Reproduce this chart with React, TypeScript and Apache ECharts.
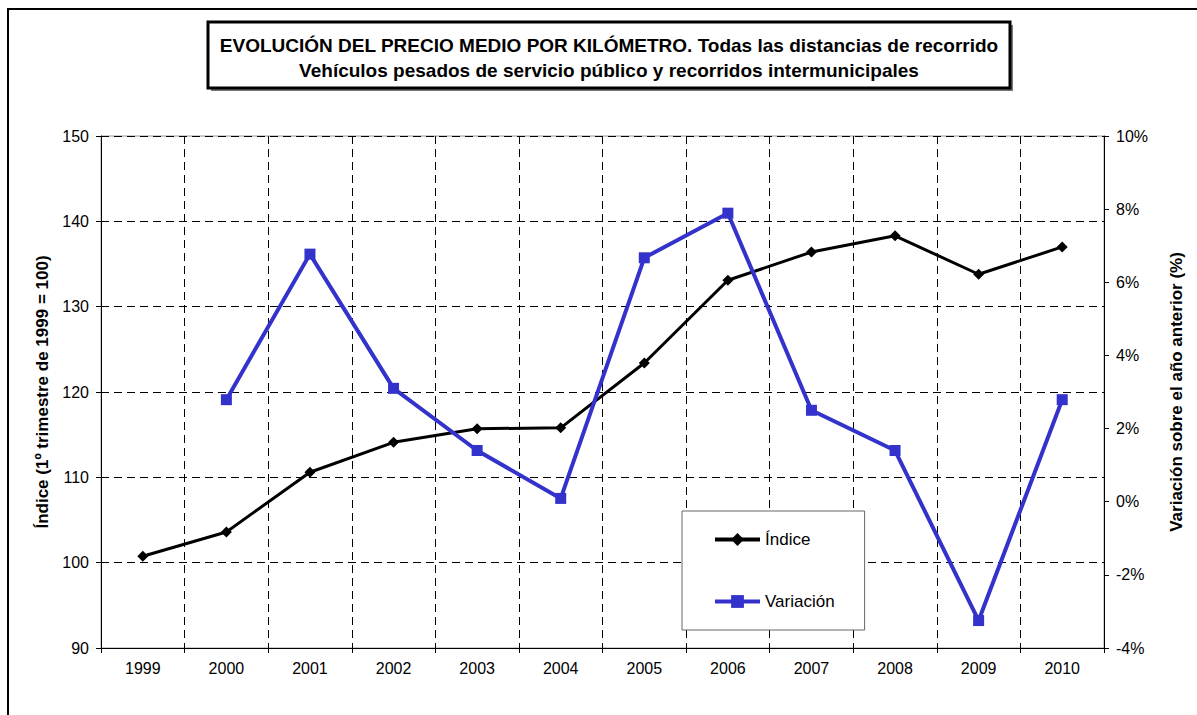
import React, { useEffect, useRef } from "react";
import * as echarts from "echarts";

const years = ["1999", "2000", "2001", "2002", "2003", "2004", "2005", "2006", "2007", "2008", "2009", "2010"];
const indice = [100.75, 103.6, 110.6, 114.1, 115.7, 115.8, 123.4, 133.1, 136.4, 138.3, 133.8, 137.0];
const variacion = [null, 2.79, 6.77, 3.1, 1.4, 0.09, 6.67, 7.89, 2.5, 1.4, -3.25, 2.79];
const titleLine1 = "EVOLUCIÓN DEL PRECIO MEDIO POR KILÓMETRO. Todas las distancias de recorrido";
const titleLine2 = "Vehículos pesados de servicio público y recorridos intermunicipales";
const leftAxisName = "Índice (1º trimestre de 1999 = 100)";
const rightAxisName = "Variación sobre el año anterior (%)";

const FONT = "'Liberation Sans', Arial, sans-serif";

export default function App() {
  const ref = useRef<HTMLDivElement>(null);
  useEffect(() => {
    if (!ref.current) return;
    const chart = echarts.init(ref.current, null, { renderer: "svg" });
    const dash = { type: [8, 5] as any, color: "#000", width: 1 };
    chart.setOption({
      animation: false,
      backgroundColor: "#fff",
      textStyle: { fontFamily: FONT },
      grid: { left: 101, right: 93, top: 136, bottom: 67, show: true, borderColor: "#999", borderWidth: 1 },
      graphic: [
        { type: "rect", shape: { x: 8, y: 9, width: 1300, height: 1000 }, style: { fill: "none", stroke: "#000", lineWidth: 2 }, z: 100 },
        { type: "rect", shape: { x: 211, y: 25, width: 802, height: 66 }, style: { fill: "#777", stroke: "none" }, z: 99 },
        { type: "rect", shape: { x: 208, y: 22, width: 802, height: 66 }, style: { fill: "#fff", stroke: "#000", lineWidth: 3 }, z: 100 },
        { type: "text", x: 609, y: 45, z: 101, style: { text: titleLine1, align: "center", verticalAlign: "middle", font: `bold 19px ${FONT}`, fill: "#000" } },
        { type: "text", x: 609, y: 70, z: 101, style: { text: titleLine2, align: "center", verticalAlign: "middle", font: `bold 19px ${FONT}`, fill: "#000" } },
      ],
      legend: {
        data: ["Índice", "Variación"],
        orient: "vertical",
        left: 682,
        top: 511,
        padding: [20, 30, 20, 31],
        itemGap: 45,
        itemWidth: 45,
        itemHeight: 16,
        lineStyle: { width: 4 },
        borderColor: "#666",
        borderWidth: 1,
        backgroundColor: "#fff",
        textStyle: { fontSize: 17, color: "#000", fontFamily: FONT },
      },
      xAxis: {
        type: "category",
        data: years,
        boundaryGap: true,
        axisLine: { onZero: false, lineStyle: { color: "#000", width: 1 } },
        axisTick: { show: true, length: 5, lineStyle: { color: "#000" } },
        axisLabel: { color: "#000", fontSize: 16, margin: 12, fontFamily: FONT },
        splitLine: { show: true, interval: 0, lineStyle: dash },
      },
      yAxis: [
        {
          type: "value",
          min: 90,
          max: 150,
          interval: 10,
          name: leftAxisName,
          nameLocation: "middle",
          nameGap: 49,
          nameRotate: 90,
          nameTextStyle: { fontSize: 17, fontWeight: "bold", color: "#000", fontFamily: FONT },
          axisLine: { show: true, lineStyle: { color: "#000", width: 1 } },
          axisTick: { show: true, length: 5, lineStyle: { color: "#000" } },
          axisLabel: { color: "#000", fontSize: 16, margin: 12, fontFamily: FONT },
          splitLine: { show: true, lineStyle: dash },
        },
        {
          type: "value",
          position: "right",
          min: -4,
          max: 10,
          interval: 2,
          name: rightAxisName,
          nameLocation: "middle",
          nameGap: 64,
          nameRotate: 90,
          nameTextStyle: { fontSize: 17, fontWeight: "bold", color: "#000", fontFamily: FONT },
          axisLine: { show: true, lineStyle: { color: "#000", width: 1 } },
          axisTick: { show: true, length: 5, lineStyle: { color: "#000" } },
          axisLabel: { color: "#000", fontSize: 16, margin: 12, formatter: "{value}%", fontFamily: FONT },
          splitLine: { show: false },
        },
      ],
      series: [
        {
          name: "Índice",
          type: "line",
          yAxisIndex: 0,
          data: indice,
          symbol: "diamond",
          symbolSize: 11,
          lineStyle: { color: "#000", width: 3 },
          itemStyle: { color: "#000" },
          z: 3,
        },
        {
          name: "Variación",
          type: "line",
          yAxisIndex: 1,
          data: variacion,
          symbol: "rect",
          symbolSize: 11,
          lineStyle: { color: "#3333CC", width: 4 },
          itemStyle: { color: "#3333CC" },
          z: 4,
        },
      ],
    });
    return () => chart.dispose();
  }, []);
  return <div ref={ref} style={{ position: "fixed", left: 0, top: 0, width: 1197, height: 715 }} />;
}
